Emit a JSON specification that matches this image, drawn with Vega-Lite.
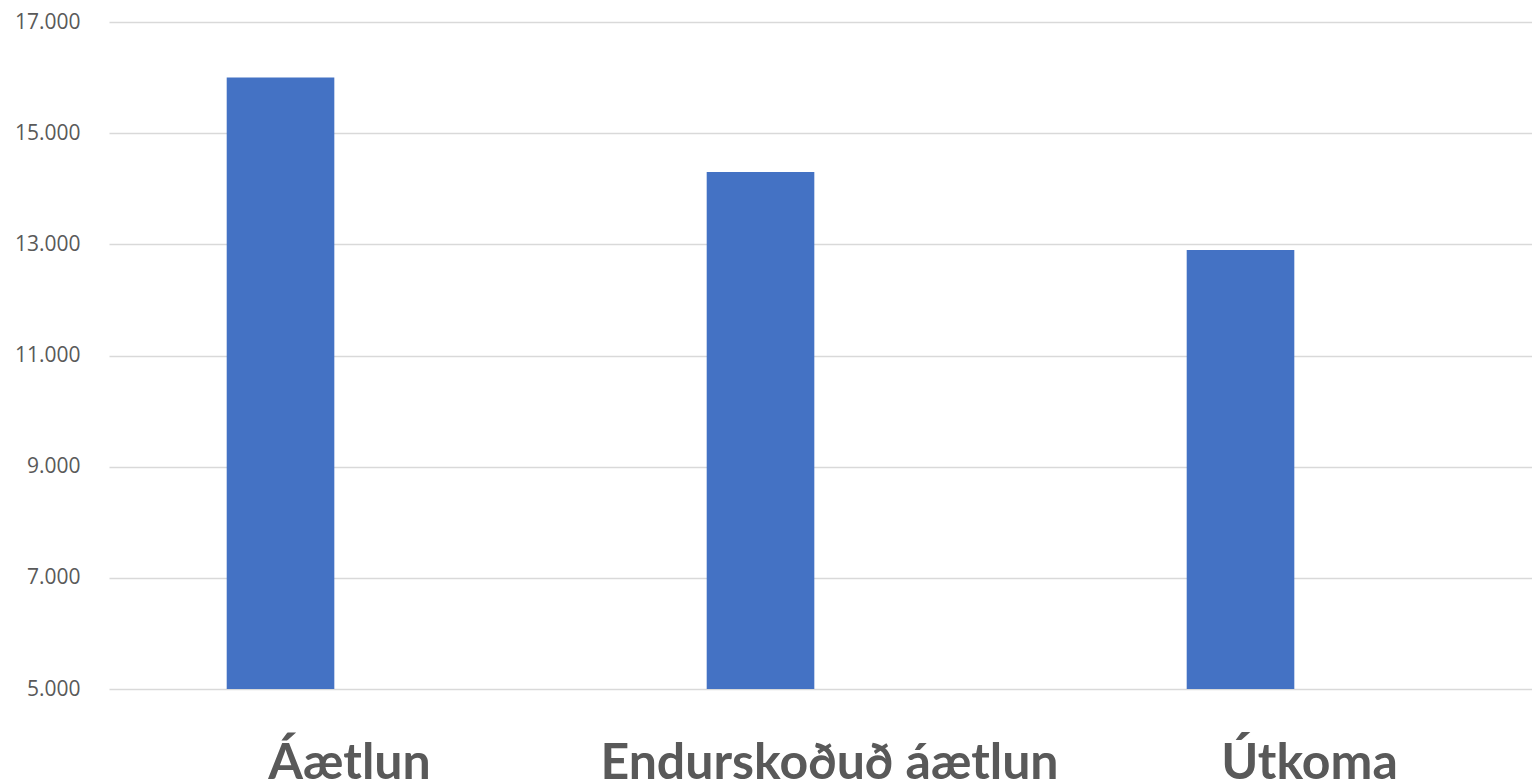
{
  "$schema": "https://vega.github.io/schema/vega-lite/v6.json",
  "autosize": {"type": "none"},
  "padding": {"left": 109, "top": 22, "right": 0, "bottom": 91},
  "width": 1423,
  "height": 667,
  "background": "white",
  "data": {
    "values": [
      {"flokkur": "Áætlun", "gildi": 16000},
      {"flokkur": "Endurskoðuð áætlun", "gildi": 14300},
      {"flokkur": "Útkoma", "gildi": 12900}
    ]
  },
  "mark": {"type": "bar", "color": "#4472C4", "clip": true},
  "encoding": {
    "x": {
      "field": "flokkur",
      "type": "nominal",
      "sort": null,
      "title": null,
      "scale": {"paddingInner": 0.7758, "paddingOuter": 0.3702, "align": 0.3312},
      "axis": {
        "labelAngle": 0,
        "domain": false,
        "ticks": false,
        "tickSize": 0,
        "labelPadding": 89,
        "labelOffset": 69,
        "labelBaseline": "alphabetic",
        "labelFont": "Lato",
        "labelFontWeight": "bold",
        "labelFontSize": 50,
        "labelColor": "#595959",
        "labelOverlap": false,
        "labelLimit": 0
      }
    },
    "y": {
      "field": "gildi",
      "type": "quantitative",
      "title": null,
      "scale": {"domain": [5000, 17000], "nice": false, "zero": false},
      "axis": {
        "values": [5000, 7000, 9000, 11000, 13000, 15000, 17000],
        "labelExpr": "replace(format(datum.value, ','), ',', '.')",
        "domain": false,
        "ticks": false,
        "tickSize": 0,
        "labelPadding": 29,
        "labelFont": "Open Sans",
        "labelFontSize": 21,
        "labelColor": "#595959",
        "grid": true,
        "gridColor": "#D9D9D9",
        "gridWidth": 1.5
      }
    }
  },
  "config": {"view": {"stroke": null}}
}
